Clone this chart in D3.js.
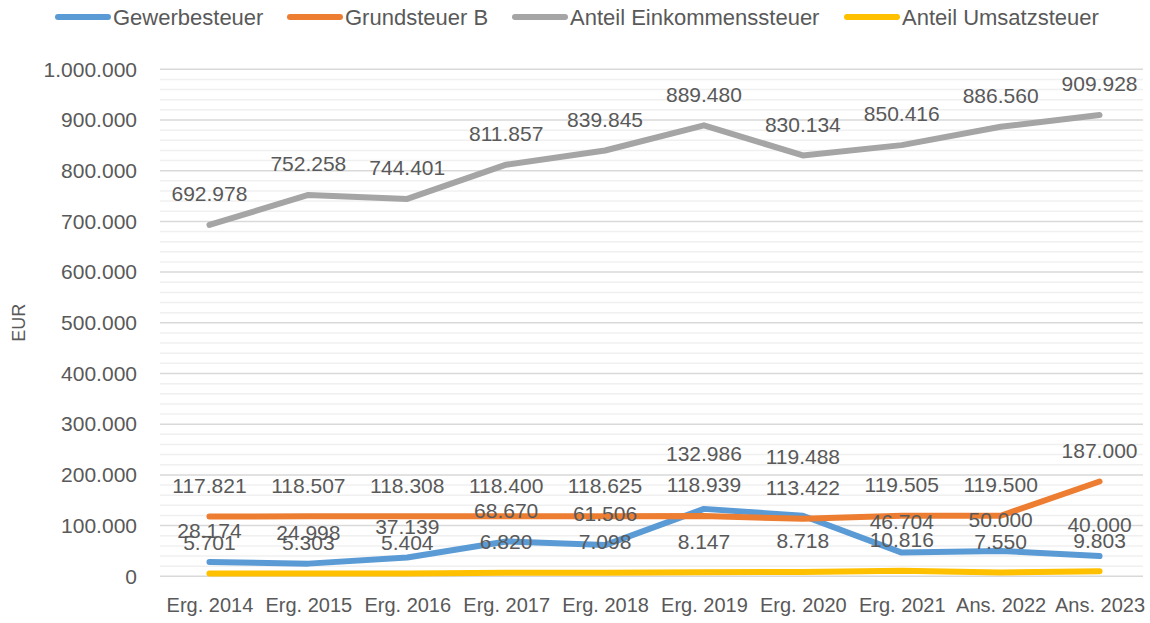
<!DOCTYPE html>
<html>
<head>
<meta charset="utf-8">
<script src="https://cdn.jsdelivr.net/npm/d3@7"></script>
<style>
  body { margin: 0; background: #fff; }
  svg text { font-family: "Liberation Sans", Arial, sans-serif; fill: #595959; }
</style>
</head>
<body>
<div id="chart"></div>
<script>

const categories = ['Erg. 2014', 'Erg. 2015', 'Erg. 2016', 'Erg. 2017', 'Erg. 2018',
                    'Erg. 2019', 'Erg. 2020', 'Erg. 2021', 'Ans. 2022', 'Ans. 2023'];

const gewerbesteuer = [28174, 24998, 37139, 68670, 61506, 132986, 119488, 46704, 50000, 40000];
const grundsteuerB = [117821, 118507, 118308, 118400, 118625, 118939, 113422, 119505, 119500, 187000];
const einkommenssteuer = [692978, 752258, 744401, 811857, 839845, 889480, 830134, 850416, 886560, 909928];
const umsatzsteuer = [5701, 5303, 5404, 6820, 7098, 8147, 8718, 10816, 7550, 9803];

const seriesNames = ['Gewerbesteuer', 'Grundsteuer B', 'Anteil Einkommenssteuer', 'Anteil Umsatzsteuer'];
const seriesColors = ['#5b9bd5', '#ed7d31', '#a5a5a5', '#ffc000'];

const yTicks = [0, 100000, 200000, 300000, 400000, 500000, 600000, 700000, 800000, 900000, 1000000];

const W = 1150,
      H = 623;

const MARGIN = { top: 70, right: 1, bottom: 47, left: 160 };

const series = [gewerbesteuer, grundsteuerB, einkommenssteuer, umsatzsteuer].map((values, i) => ({
  name: seriesNames[i],
  color: seriesColors[i],
  values: values
}));

const fmt = d3.formatLocale({ decimal: ',', thousands: '.', grouping: [3], currency: ['', ' €'] }).format(',d');

const svg = d3.select('#chart').append('svg')
  .attr('width', W)
  .attr('height', H);

const x = d3.scalePoint()
  .domain(categories)
  .range([MARGIN.left, W - MARGIN.right])
  .padding(0.5);

const y = d3.scaleLinear()
  .domain([0, 1000000])
  .range([H - MARGIN.bottom + 0.3, MARGIN.top - 0.7]);

// gridlines: minor every 20.000, major every 100.000
const minor = d3.range(0, 1000001, 20000).filter((v) => v % 100000 !== 0);

svg.append('g').selectAll('line')
  .data(minor)
  .enter().append('line')
    .attr('x1', MARGIN.left)
    .attr('x2', W - MARGIN.right - 6)
    .attr('y1', (d) => y(d))
    .attr('y2', (d) => y(d))
    .attr('stroke', '#f0f0f0')
    .attr('stroke-width', 1.5);

svg.append('g').selectAll('line')
  .data(yTicks)
  .enter().append('line')
    .attr('x1', MARGIN.left)
    .attr('x2', W - MARGIN.right - 6)
    .attr('y1', (d) => y(d))
    .attr('y2', (d) => y(d))
    .attr('stroke', '#d9d9d9')
    .attr('stroke-width', 1.5);

// y axis
const yAxis = svg.append('g')
  .attr('transform', `translate(${MARGIN.left}, 0)`)
  .call(d3.axisLeft(y).tickValues(yTicks).tickFormat(fmt).tickSize(0).tickPadding(23));

yAxis.select('.domain').remove();
yAxis.selectAll('text')
  .attr('font-size', '21px')
  .style('font-family', '"Liberation Sans", Arial, sans-serif');

// x axis
const xAxis = svg.append('g')
  .attr('transform', `translate(0, ${H - MARGIN.bottom})`)
  .call(d3.axisBottom(x).tickSize(0).tickPadding(22));

xAxis.select('.domain').remove();
xAxis.selectAll('text')
  .attr('font-size', '20px')
  .style('font-family', '"Liberation Sans", Arial, sans-serif');

// axis title
svg.append('text')
  .attr('transform', `translate(25, ${(y(0) + y(1000000)) / 2}) rotate(-90)`)
  .attr('text-anchor', 'middle')
  .attr('font-size', '18px')
  .text('EUR');

// lines
const line = d3.line()
  .x((d, i) => x(categories[i]))
  .y((d) => y(d));

svg.append('g').selectAll('path')
  .data(series)
  .enter().append('path')
    .attr('d', (d) => line(d.values))
    .attr('fill', 'none')
    .attr('stroke', (d) => d.color)
    .attr('stroke-width', 6)
    .attr('stroke-linecap', 'round')
    .attr('stroke-linejoin', 'round');

// data labels, placed above the point
const LABEL_OFFSET = 31;

const labels = [];
series.forEach((s, si) => {
  s.values.forEach((v, i) => {
    labels.push({ si: si, i: i, v: v, x: x(categories[i]), y: y(v) - LABEL_OFFSET });
  });
});

// push the Gewerbesteuer label over the Grundsteuer label where they would collide
labels.filter((l) => l.si === 0).forEach((l) => {
  const other = labels.find((o) => o.si === 1 && o.i === l.i);
  if (Math.abs(other.y - l.y) < 20) l.y = other.y - 31;
});

svg.append('g').selectAll('text')
  .data(labels)
  .enter().append('text')
    .attr('x', (d) => d.x)
    .attr('y', (d) => d.y)
    .attr('dy', '0.35em')
    .attr('text-anchor', 'middle')
    .attr('font-size', '21px')
    .attr('fill', '#404040')
    .text((d) => fmt(d.v));

// legend
const legendX = [55, 287, 512, 844];

const legend = svg.append('g').selectAll('g')
  .data(series)
  .enter().append('g')
    .attr('transform', (d, i) => `translate(${legendX[i]}, 17)`);

legend.append('line')
  .attr('x1', 3)
  .attr('x2', 53)
  .attr('stroke', (d) => d.color)
  .attr('stroke-width', 6)
  .attr('stroke-linecap', 'round');

legend.append('text')
  .attr('x', 58)
  .attr('dy', '0.35em')
  .attr('font-size', '22px')
  .text((d) => d.name);

</script>
</body>
</html>
